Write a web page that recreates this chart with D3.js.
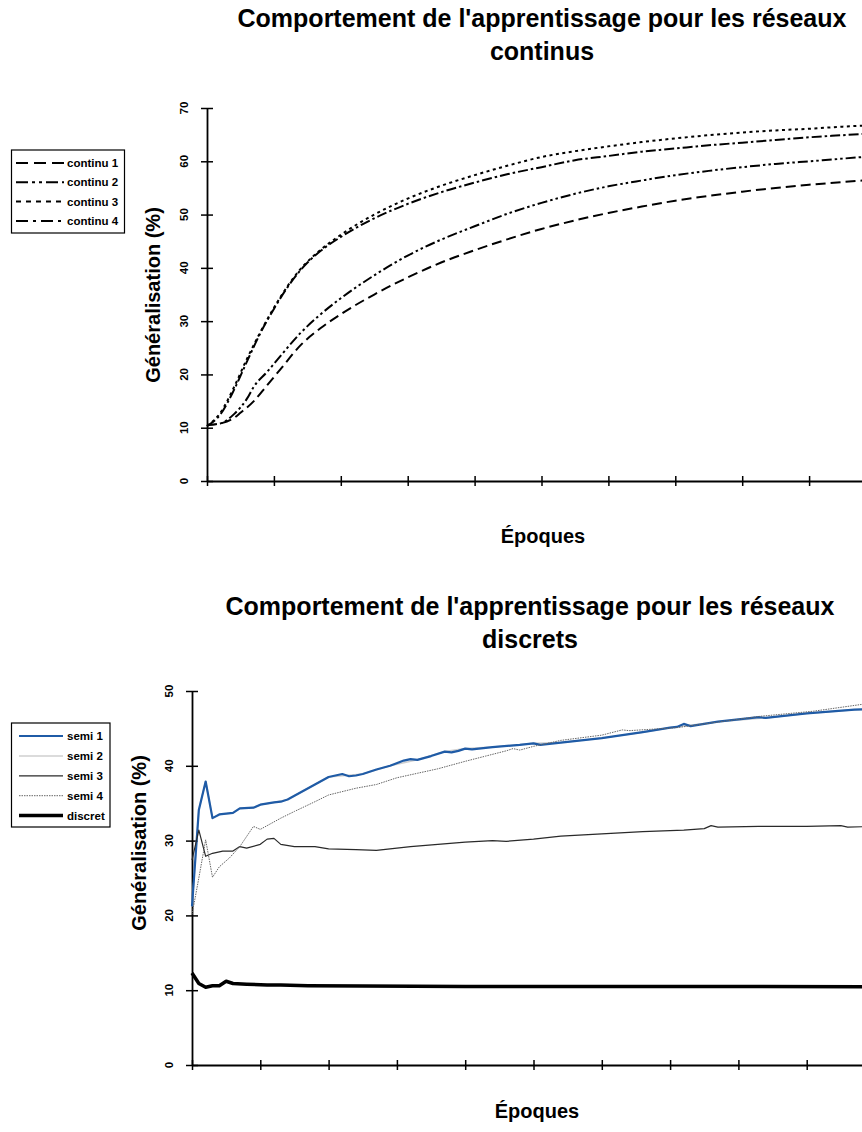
<!DOCTYPE html>
<html>
<head>
<meta charset="utf-8">
<script src="https://cdn.jsdelivr.net/npm/d3@7"></script>
<style>
  body { margin: 0; background: #fff; }
  svg { display: block; font-family: "Liberation Sans", Arial, Helvetica, sans-serif; }
</style>
</head>
<body>
<svg id="chart" width="862" height="1132"></svg>
<script>
// === Données : [époque, généralisation %] ===
const continu1 = [[0,10.5],[2,10.8],[4,11.8],[5,12.8],[7,15],[9,18],[11,21],[14,25.5],[17,28.7],[20,31.3],[25,35],[30,38.2],[35,41],[40,43.3],[45,45.4],[50,47.3],[55,48.9],[60,50.3],[65,51.5],[70,52.6],[75,53.5],[80,54.3],[85,55],[90,55.6],[95,56.1],[100,56.6]];
const continu2 = [[0,10.5],[2,10.8],[4,12.5],[6,15.5],[7,17.7],[9,20.5],[11,23.5],[14,27.8],[17,31.3],[20,34.3],[25,38.6],[30,42.3],[35,45.3],[40,47.8],[45,50.2],[50,52.2],[55,53.9],[60,55.3],[65,56.4],[70,57.4],[75,58.2],[80,58.9],[85,59.5],[90,60],[95,60.5],[100,61]];
const continu3 = [[0,10.3],[2,12.8],[4,17.5],[6,23],[8,28],[10,32.5],[12,36.5],[14,39.8],[17,43.4],[20,46.2],[25,50],[30,53],[35,55.4],[40,57.4],[45,59.2],[50,60.8],[55,61.9],[60,62.8],[65,63.6],[70,64.3],[75,64.9],[80,65.4],[85,65.8],[90,66.1],[95,66.5],[100,66.8]];
const continu4 = [[0,10.3],[2,12.5],[4,17],[6,22.5],[8,27.8],[10,32.3],[12,36.3],[14,39.6],[17,43.2],[20,45.8],[25,49.3],[30,52],[35,54.2],[40,56],[45,57.6],[50,58.9],[55,60.2],[60,61],[65,61.8],[70,62.4],[75,63],[80,63.5],[85,64],[90,64.5],[95,64.9],[100,65.3]];

const semi1 = [[0,21.2],[1,34.1],[2,37.9],[3,33],[4,33.5],[6,33.7],[7,34.3],[9,34.4],[10,34.8],[12,35.1],[13,35.2],[14,35.5],[15,36],[16,36.5],[18,37.5],[20,38.5],[22,38.9],[23,38.6],[24,38.7],[25,38.9],[27,39.5],[29,40],[31,40.7],[32,40.9],[33,40.8],[35,41.3],[37,41.9],[38,41.8],[39,42],[40,42.3],[41,42.2],[44,42.5],[48,42.8],[50,43],[51,42.8],[54,43.1],[60,43.7],[66,44.5],[70,45.1],[71,45.2],[72,45.6],[73,45.3],[77,45.9],[82,46.4],[83,46.5],[84,46.4],[90,47],[97,47.5],[100,47.6]];
// semi 2 reste caché sous semi 1
const semi2 = [[0,21.2],[1,34.1],[2,37.9],[3,33],[4,33.5],[6,33.7],[7,34.3],[9,34.4],[10,34.8],[12,35.1],[14,35.5],[16,36.5],[18,37.5],[20,38.5],[25,38.9],[29,40],[33,40.8],[37,41.9],[40,42.3],[44,42.5],[50,43],[54,43.1],[60,43.7],[66,44.5],[70,45.1],[77,45.9],[84,46.4],[90,47],[97,47.5],[100,47.6]];
const semi3 = [[0,27.4],[1,31.4],[2,27.9],[3,28.3],[4.5,28.6],[6,28.6],[7,29.2],[8,29],[10,29.5],[11,30.2],[12,30.3],[13,29.5],[15,29.2],[18,29.2],[20,28.9],[24,28.8],[27,28.7],[29,28.9],[32,29.2],[36,29.5],[40,29.8],[44,30],[46,29.9],[50,30.2],[54,30.6],[60,30.9],[66,31.2],[72,31.4],[75,31.6],[76,32],[77,31.8],[83,31.9],[90,31.9],[95,32],[96,31.8],[100,31.9]];
const semi4 = [[0,20.1],[1,25],[2,30.1],[3,25.1],[4,26.5],[5.5,27.7],[7,29.2],[9,31.9],[10,31.5],[13,33],[15,33.9],[18,35.2],[20,36.1],[24,37],[27,37.5],[30,38.4],[33,39],[36,39.6],[40,40.6],[43,41.3],[46,42],[47,42.3],[48,42.1],[50,42.6],[54,43.4],[60,44.1],[63,44.8],[64,44.7],[71,45.1],[75,45.6],[83,46.6],[91,47.3],[98,48.2],[100,48.3]];
const discret = [[0,12.3],[1,10.9],[2,10.4],[3,10.6],[4,10.6],[5,11.2],[6,10.9],[8,10.8],[11,10.7],[13,10.7],[17,10.6],[25,10.55],[40,10.5],[60,10.5],[80,10.5],[100,10.45]];

const ticksTop = [0, 10, 20, 30, 40, 50, 60, 70];
const ticksBottom = [0, 10, 20, 30, 40, 50];
const ticksEpoques = d3.range(0, 101, 10);

const svg = d3.select('#chart');
svg.append('rect').attr('width', 862).attr('height', 1132).attr('fill', '#fff');

// === Fonction de dessin d'un graphique ===
function drawChart(cfg) {
  const g = svg.append('g');
  const x = d3.scaleLinear().domain([0, 100]).range(cfg.xRange);
  const y = d3.scaleLinear().domain(cfg.yDomain).range(cfg.yRange);

  // titre sur deux lignes
  cfg.title.forEach((t, i) => {
    g.append('text')
      .attr('x', cfg.titleX).attr('y', cfg.titleY + i * 33)
      .attr('text-anchor', 'middle')
      .style('font-size', '25px').style('font-weight', 'bold')
      .text(t);
  });

  // axe vertical (graduations en croix)
  const yAx = g.append('g').attr('transform', `translate(${cfg.xRange[0]},0)`)
    .call(d3.axisLeft(y).tickValues(cfg.yTicks).tickSize(6).tickSizeOuter(0).tickFormat(''));
  yAx.selectAll('.tick line').attr('x1', 6).attr('stroke-width', 1.5);
  yAx.select('.domain').attr('stroke-width', 1.8);

  g.selectAll('text.ylab').data(cfg.yTicks).join('text')
    .attr('class', 'ylab')
    .attr('transform', d => `translate(${cfg.yLabelX},${y(d)}) rotate(-90)`)
    .attr('text-anchor', 'middle')
    .style('font-size', '11.5px').style('font-weight', 'bold')
    .text(d => d);

  // axe horizontal
  const xAx = g.append('g').attr('transform', `translate(0,${cfg.yRange[0]})`)
    .call(d3.axisBottom(x).tickValues(ticksEpoques).tickSize(5).tickSizeOuter(0).tickFormat(''));
  xAx.selectAll('.tick line').attr('y1', -5).attr('stroke-width', 1.5);
  xAx.select('.domain').attr('stroke-width', 1.8);

  g.append('text')
    .attr('transform', `translate(${cfg.yTitleX},${cfg.yTitleY}) rotate(-90)`)
    .attr('text-anchor', 'middle')
    .style('font-size', '20px').style('font-weight', 'bold')
    .text('Généralisation (%)');

  g.append('text')
    .attr('x', cfg.xTitleX).attr('y', cfg.xTitleY)
    .attr('text-anchor', 'middle')
    .style('font-size', '20px').style('font-weight', 'bold')
    .text('Époques');

  // courbes
  const line = d3.line().x(d => x(d[0])).y(d => y(d[1])).curve(cfg.curve);
  cfg.drawOrder.forEach(i => {
    const s = cfg.series[i];
    g.append('path').datum(s.data)
      .attr('d', line)
      .attr('fill', 'none')
      .attr('stroke', s.color)
      .attr('stroke-width', s.width)
      .attr('stroke-dasharray', s.dash || null)
      .attr('stroke-linejoin', 'round');
  });

  // légende
  const lg = g.append('g');
  lg.append('rect')
    .attr('x', cfg.legend.x).attr('y', cfg.legend.y)
    .attr('width', cfg.legend.w).attr('height', cfg.legend.h)
    .attr('fill', '#fff').attr('stroke', '#000').attr('stroke-width', 1.2);
  cfg.series.forEach((s, i) => {
    const yy = cfg.legend.firstRow + i * cfg.legend.step;
    lg.append('line')
      .attr('x1', cfg.legend.x1).attr('x2', cfg.legend.x2)
      .attr('y1', yy).attr('y2', yy)
      .attr('stroke', s.color).attr('stroke-width', s.width)
      .attr('stroke-dasharray', s.legendDash || s.dash || null);
    lg.append('text')
      .attr('x', cfg.legend.tx).attr('y', yy + 4)
      .style('font-size', '11.5px').style('font-weight', 'bold')
      .text(s.name);
  });
}

drawChart({
  title: ["Comportement de l'apprentissage pour les réseaux", 'continus'],
  titleX: 542, titleY: 27,
  xRange: [207, 876], yDomain: [0, 70], yRange: [481, 108],
  yTicks: ticksTop, yLabelX: 188,
  yTitleX: 160, yTitleY: 295,
  xTitleX: 543, xTitleY: 543,
  curve: d3.curveMonotoneX,
  series: [
    { name: 'continu 1', data: continu1, color: '#000', width: 2, dash: '10,5', legendDash: '12,6' },
    { name: 'continu 2', data: continu2, color: '#000', width: 2, dash: '10,3,2.5,3,2.5,3', legendDash: '12,4,3,4,3,4' },
    { name: 'continu 3', data: continu3, color: '#000', width: 2, dash: '3,3.5', legendDash: '5,5' },
    { name: 'continu 4', data: continu4, color: '#000', width: 2, dash: '10,3,2.5,3', legendDash: '12,5,3,5' }
  ],
  drawOrder: [0, 1, 2, 3],
  legend: { x: 11.5, y: 150, w: 113, h: 83, firstRow: 163, step: 19.3, x1: 16, x2: 64, tx: 67 }
});

drawChart({
  title: ["Comportement de l'apprentissage pour les réseaux", 'discrets'],
  titleX: 530, titleY: 615,
  xRange: [192, 875], yDomain: [0, 50], yRange: [1065, 691],
  yTicks: ticksBottom, yLabelX: 173,
  yTitleX: 146, yTitleY: 843,
  xTitleX: 537, xTitleY: 1118,
  curve: d3.curveLinear,
  series: [
    { name: 'semi 1', data: semi1, color: '#1f5ba6', width: 2.2 },
    { name: 'semi 2', data: semi2, color: '#cfcfcf', width: 1.5 },
    { name: 'semi 3', data: semi3, color: '#2a2a2a', width: 1.2 },
    { name: 'semi 4', data: semi4, color: '#666', width: 1, dash: '1.5,1' },
    { name: 'discret', data: discret, color: '#000', width: 3.5 }
  ],
  drawOrder: [1, 0, 2, 3, 4],
  legend: { x: 11.5, y: 723, w: 98.5, h: 104, firstRow: 736, step: 19.9, x1: 19, x2: 63, tx: 67 }
});
</script>
</body>
</html>
